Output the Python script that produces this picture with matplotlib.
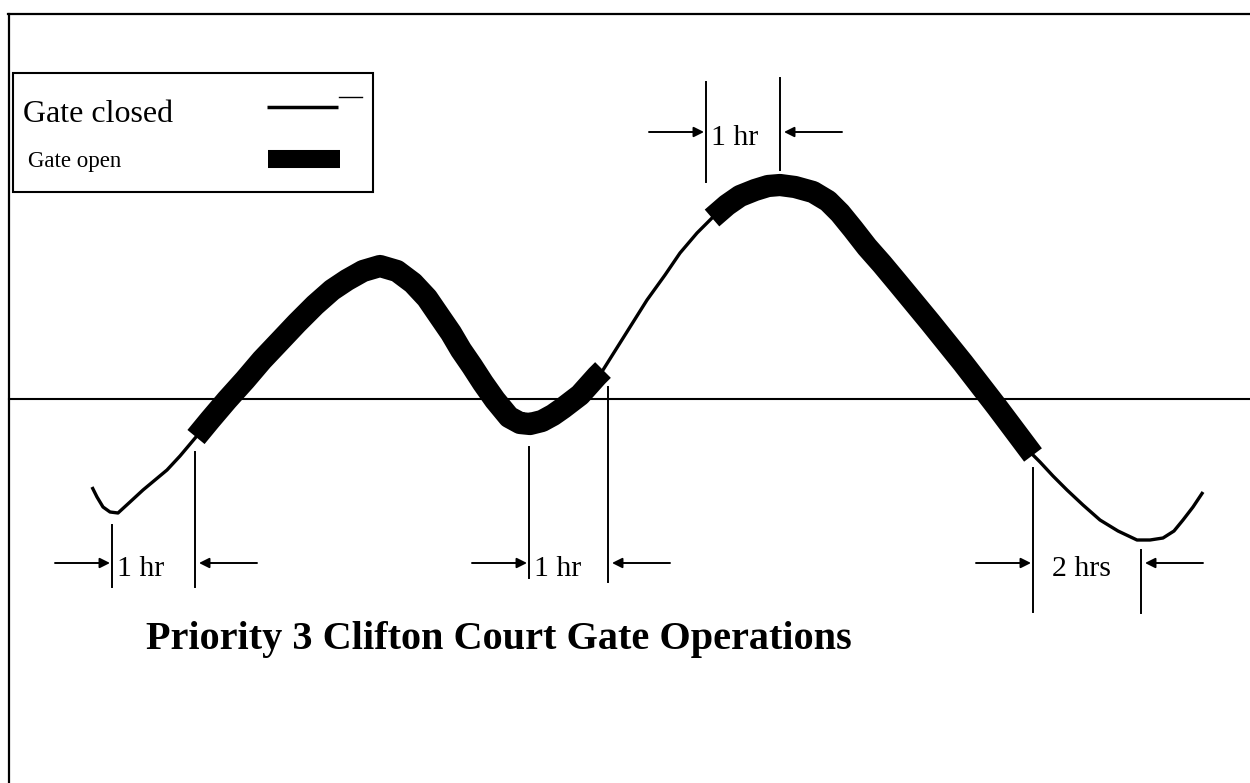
import matplotlib
matplotlib.use("Agg")
import matplotlib.pyplot as plt
from matplotlib.patches import Rectangle

plt.rcParams['font.family'] = ['Liberation Serif', 'DejaVu Serif']

# tide curve (x to the right, y downwards)
curve_x = [92, 97, 103, 110, 118, 130, 143, 155, 167, 180, 196,
           210, 227, 245, 262, 280, 297, 315, 332, 347, 363, 380,
           397, 413, 427, 440, 451, 461, 472, 483, 495, 509, 520, 530,
           542, 553, 563, 580, 597, 603,
           625, 647, 665, 680, 697, 712,
           727, 740, 755, 768, 780, 795, 813, 828, 840, 853, 867, 882,
           897, 930, 963, 997, 1033,
           1040, 1053, 1067, 1083, 1100, 1118, 1137, 1150, 1163, 1174,
           1183, 1193, 1203]
curve_y = [487, 497, 507, 512, 513, 502, 490, 480, 470, 456, 437,
           420, 400, 380, 360, 341, 323, 305, 290, 280, 271, 266,
           271, 283, 298, 317, 333, 350, 366, 383, 400, 417, 423, 424,
           421, 415, 408, 395, 376, 370,
           335, 300, 275, 253, 233, 218,
           205, 196, 190, 186, 185, 187, 192, 201, 213, 229, 247, 264,
           282, 322, 363, 407, 455,
           462, 476, 490, 505, 520, 531, 540, 540, 538, 531,
           520, 507, 492]

# windows where the gate is open (thick curve)
open_start = [196, 712]
open_end = [603, 1033]

mean_level = 399

# duration markers
span_labels = ["1 hr", "1 hr", "1 hr", "2 hrs"]
span_left = [112, 529, 706, 1033]
span_right = [195, 608, 780, 1141]
span_y = [563, 563, 132, 563]
left_top = [525, 447, 82, 468]
left_bottom = [587, 578, 182, 612]
right_top = [452, 387, 78, 550]
right_bottom = [587, 582, 170, 613]
label_gap = [5, 5, 5, 19]

title = "Priority 3 Clifton Court Gate Operations"

fig = plt.figure(figsize=(12.5, 7.83), dpi=100)
ax = fig.add_axes([0, 0, 1, 1])
ax.set_xlim(0, 1250)
ax.set_ylim(783, 0)
ax.axis('off')

# frame (top and left edges only show in the scan)
ax.plot([8, 1250], [14, 14], color='black', lw=1.6)
ax.plot([9, 9], [14, 783], color='black', lw=1.6)

# mean water level
ax.plot([9, 1250], [mean_level, mean_level], color='black', lw=1.5)

# whole curve thin = gate closed
ax.plot(curve_x, curve_y, color='black', lw=2.4, solid_joinstyle='round',
        solid_capstyle='butt')

# gate open portions thick
for s, e in zip(open_start, open_end):
    xs = [x for x in curve_x if s <= x <= e]
    ys = [y for x, y in zip(curve_x, curve_y) if s <= x <= e]
    ax.plot(xs, ys, color='black', lw=16, solid_joinstyle='round',
            solid_capstyle='butt')

# duration markers with arrows
for i in range(len(span_labels)):
    xl, xr, y = span_left[i], span_right[i], span_y[i]
    ax.plot([xl, xl], [left_top[i], left_bottom[i]], color='black', lw=1.4)
    ax.plot([xr, xr], [right_top[i], right_bottom[i]], color='black', lw=1.4)
    ax.annotate('', xy=(xl - 2, y), xytext=(xl - 57, y),
                arrowprops=dict(arrowstyle='-|>', color='black', lw=1.4,
                                mutation_scale=15, shrinkA=0, shrinkB=0))
    ax.annotate('', xy=(xr + 4, y), xytext=(xr + 62, y),
                arrowprops=dict(arrowstyle='-|>', color='black', lw=1.4,
                                mutation_scale=15, shrinkA=0, shrinkB=0))
    ax.text(xl + label_gap[i], y + 6, span_labels[i], fontsize=21.5,
            ha='left', va='center')

# legend box
ax.add_patch(Rectangle((13, 73), 360, 119, fill=False, edgecolor='black', lw=1.5))
ax.text(23, 114, "Gate closed", fontsize=23, ha='left', va='center')
ax.text(28, 161, "Gate open", fontsize=16.5, ha='left', va='center')
ax.plot([267, 338], [107, 107], color='black', lw=2.5, solid_capstyle='butt')
ax.plot([339, 362], [97, 97], color='black', lw=1.0)
ax.plot([268, 340], [159, 159], color='black', lw=13, solid_capstyle='butt')

ax.text(499, 640, title, fontsize=29, fontweight='bold', ha='center', va='center')

fig.savefig('out.png', dpi=100)
plt.close(fig)
